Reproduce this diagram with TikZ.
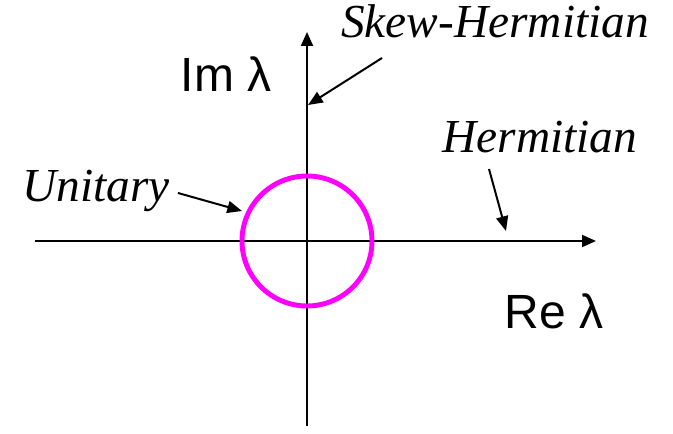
\documentclass[tikz,border=0pt]{standalone}
\usepackage{fontspec}
\setmainfont{Liberation Serif}
\setsansfont{Liberation Sans}
\usetikzlibrary{arrows.meta}
\definecolor{unitcol}{RGB}{255,0,255}

\begin{document}
\begin{tikzpicture}[x=0.75pt,y=-0.75pt,
      ax/.style={line width=1.5pt,-{Triangle[length=10.5pt,width=9pt]}},
      pt/.style={line width=1.5pt,-{Triangle[length=11pt,width=9pt]}},
      lbl/.style={font=\fontsize{35.5}{40}\selectfont\itshape,anchor=base,inner sep=0pt},
      axl/.style={font=\fontsize{36}{40}\selectfont\sffamily,anchor=base,inner sep=0pt}
    ]
      \useasboundingbox (0,0) rectangle (673,434);
      \coordinate (o) at (307,241);
      \coordinate (xl) at (35,241);
      \coordinate (xr) at (596,241);
      \coordinate (yb) at (307,426);
      \coordinate (yt) at (307,32);
      \draw[ax] (xl) -- (xr);
      \draw[ax] (yb) -- (yt);
      \draw[unitcol,line width=3.7pt] (o) circle (65);
      \node[axl] (im) at (226,92) {Im λ};
      \node[axl] (re) at (554,328) {Re λ};
      \node[lbl] (skew) at (495,38) {Skew-Hermitian};
      \node[lbl] (herm) at (540,153) {Hermitian};
      \node[lbl] (unit) at (96,202) {Unitary};
      % arrow ends
      \coordinate (s0) at (382,58);
      \coordinate (s1) at (308,105);
      \coordinate (h0) at (489,169);
      \coordinate (h1) at (506,231);
      \coordinate (u0) at (178,193);
      \coordinate (u1) at (242,211);
      \draw[pt] (s0) -- (s1);
      \draw[pt] (h0) -- (h1);
      \draw[pt] (u0) -- (u1);
    \end{tikzpicture}
\end{document}
